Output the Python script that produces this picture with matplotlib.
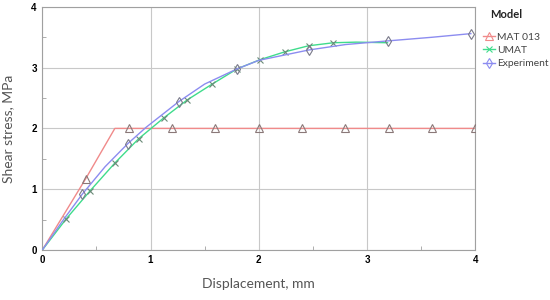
import matplotlib
matplotlib.use("Agg")
import matplotlib.pyplot as plt
from matplotlib.ticker import MultipleLocator

# MAT 013 model
mat_x = [0.0, 0.4, 0.67, 0.8, 1.2, 1.6, 2.0, 2.4, 2.8, 3.2, 3.6, 4.0]
mat_y = [0.0, 1.17, 2.0, 2.0, 2.0, 2.0, 2.0, 2.0, 2.0, 2.0, 2.0, 2.0]
mat_marks = [1, 3, 4, 5, 6, 7, 8, 9, 10, 11]

# UMAT model
umat_x = [0.0, 0.22, 0.44, 0.67, 0.89, 1.12, 1.34, 1.57, 1.80, 2.01, 2.24, 2.46, 2.69, 2.90, 3.19]
umat_y = [0.0, 0.51, 0.97, 1.43, 1.83, 2.17, 2.47, 2.73, 2.98, 3.13, 3.26, 3.36, 3.41, 3.42, 3.41]
umat_marks = list(range(1, 13))

# Experiment
exp_x = [0.0, 0.20, 0.37, 0.58, 0.79, 0.96, 1.26, 1.50, 1.80, 2.00, 2.46, 2.80, 3.19, 3.60, 3.96]
exp_y = [0.0, 0.51, 0.92, 1.37, 1.75, 2.02, 2.44, 2.73, 2.98, 3.12, 3.29, 3.38, 3.44, 3.50, 3.56]
exp_marks = [2, 4, 6, 8, 10, 12, 14]

x_ticks = [0, 1, 2, 3, 4]
y_ticks = [0, 1, 2, 3, 4]

fig = plt.figure(figsize=(5.5, 3.0), dpi=100)
ax = fig.add_axes([0.077, 0.167, 0.787, 0.81])

c_mat = "#f08a8a"
c_umat = "#3fdc8c"
c_exp = "#8c8cf0"

ax.plot(mat_x, mat_y, color=c_mat, lw=1.0, marker="^", markevery=mat_marks,
        ms=6, mfc="none", mec="#8a7878", mew=0.8, label="MAT 013", zorder=3)
ax.plot(umat_x, umat_y, color=c_umat, lw=1.0, marker="x", markevery=umat_marks,
        ms=4.5, mfc="none", mec="#6a8a78", mew=0.8, label="UMAT", zorder=3)
ax.plot(exp_x, exp_y, color=c_exp, lw=1.0, marker="d", markevery=exp_marks,
        ms=5.5, mfc="none", mec="#7a7a8a", mew=0.8, label="Experiment", zorder=3)

ax.set_xlim(0, 4)
ax.set_ylim(0, 4)
ax.set_xticks(x_ticks)
ax.set_yticks(y_ticks)
ax.xaxis.set_minor_locator(MultipleLocator(0.5))
ax.yaxis.set_minor_locator(MultipleLocator(0.5))
ax.grid(True, which="major", color="#c8c8c8", lw=0.8)
ax.tick_params(which="major", length=0, labelsize=7, pad=4)
ax.tick_params(which="minor", direction="in", length=3, color="#a0a0a0")
for lab in ax.get_xticklabels() + ax.get_yticklabels():
    lab.set_fontweight("bold")
    lab.set_family("Liberation Sans")
for s in ax.spines.values():
    s.set_color("#a0a0a0")
    s.set_linewidth(0.8)

ax.set_xlabel("Displacement, mm", fontsize=10, color="#555555", family="Lato", labelpad=9)
ax.set_ylabel("Shear stress, MPa", fontsize=10, color="#555555", family="Lato", labelpad=12)

fig.text(490 / 550, 1 - 14 / 300, "Model", fontsize=8, fontweight="bold",
         family="Lato", color="#222222", ha="left", va="center")

leg = ax.legend(loc="upper left", bbox_to_anchor=(1.018, 0.895), frameon=False,
                prop={"family": "Lato", "size": 7.4},
                handlelength=1.2, handletextpad=0.15, labelspacing=0.4,
                borderpad=0.0, borderaxespad=0.0)
for t in leg.get_texts():
    t.set_color("#444444")
for h, c in zip(leg.legend_handles, [c_mat, c_umat, c_exp]):
    h.set_markeredgecolor(c)

fig.savefig("out.png", dpi=100)
